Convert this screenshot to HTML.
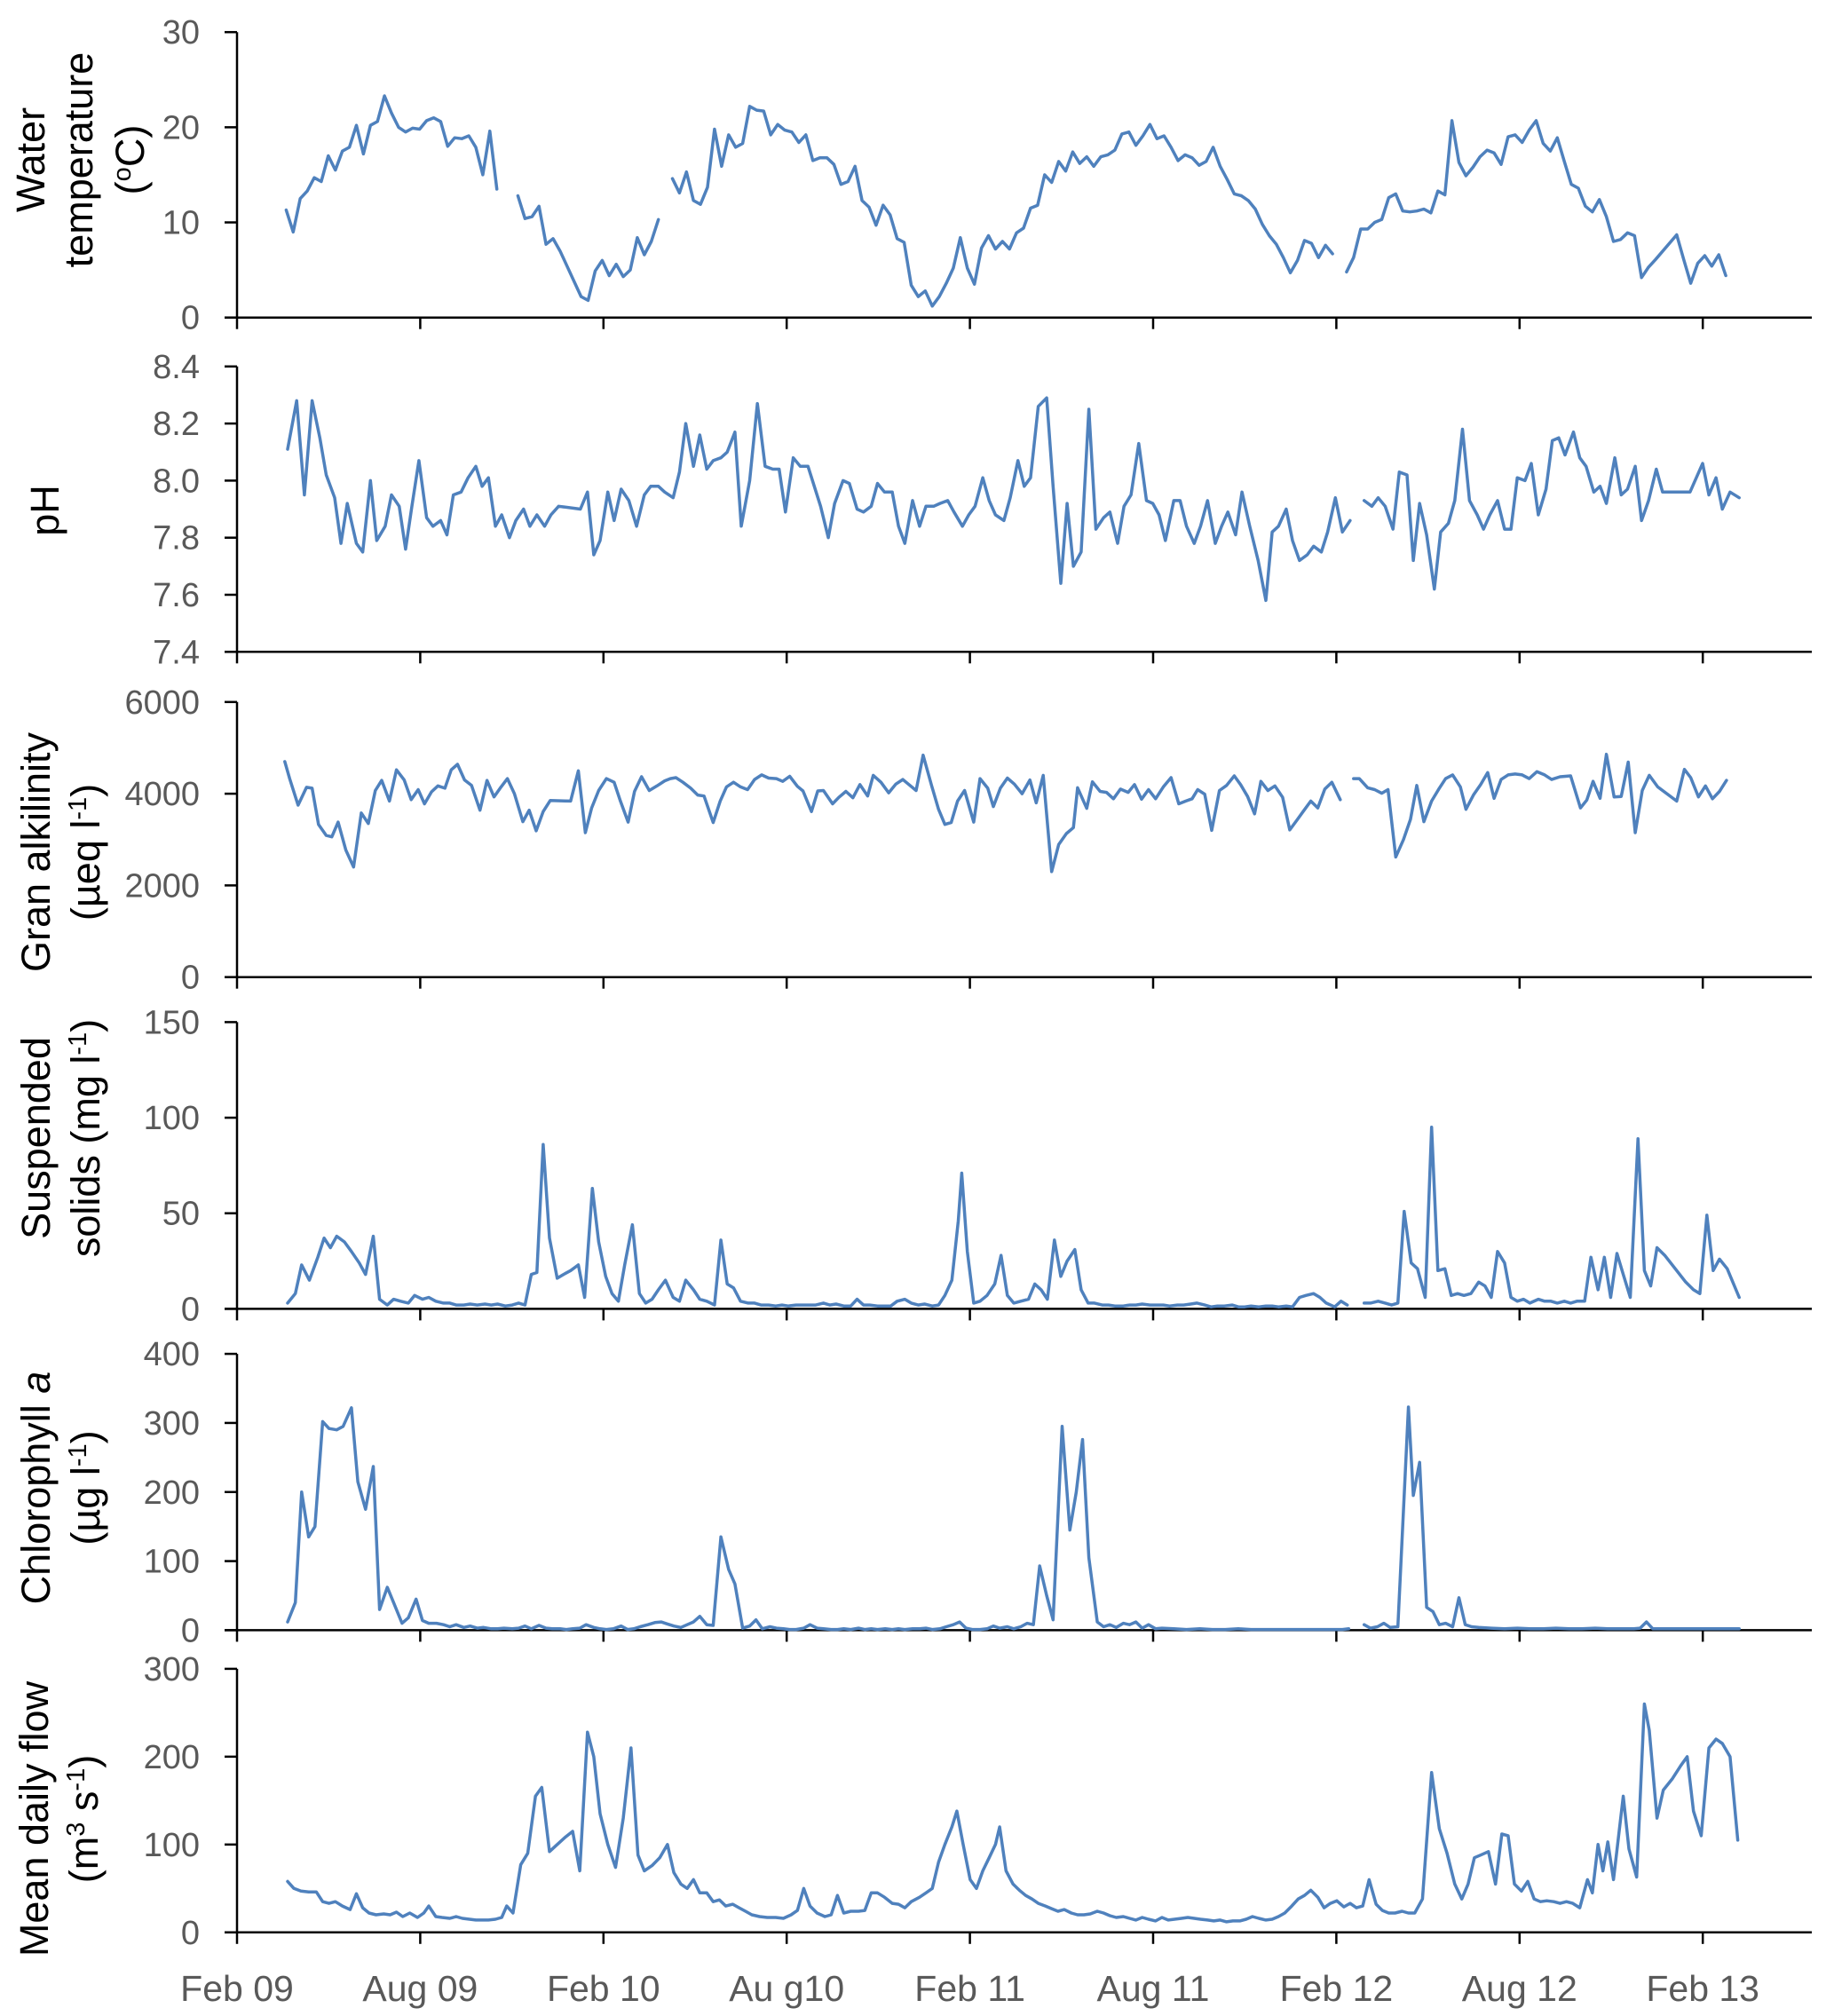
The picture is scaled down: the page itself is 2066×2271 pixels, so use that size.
<!DOCTYPE html>
<html><head><meta charset="utf-8"><title>Water quality time series</title>
<style>
html,body{margin:0;padding:0;background:#fff;}
svg{display:block;font-family:"Liberation Sans",Arial,sans-serif;}
.tick{font-size:38px;fill:#595959;}
.xlab{font-size:41px;fill:#595959;}
.title{font-size:45px;fill:#000;}
</style></head>
<body>
<svg id="chart" width="2066" height="2271" viewBox="0 0 2066 2271" xmlns="http://www.w3.org/2000/svg">
<g id="axes"></g>
<g id="series"></g>
<g id="titles">
  <text class="title" text-anchor="middle" transform="translate(50,180) rotate(-90)">Water</text>
  <text class="title" text-anchor="middle" transform="translate(104,180) rotate(-90)">temperature</text>
  <text class="title" text-anchor="middle" transform="translate(162,180) rotate(-90)">(<tspan font-size="29" dy="-15">o</tspan><tspan dy="15">C)</tspan></text>
  <text class="title" text-anchor="middle" transform="translate(66,575) rotate(-90)">pH</text>
  <text class="title" text-anchor="middle" transform="translate(56,960) rotate(-90)">Gran alkilinity</text>
  <text class="title" text-anchor="middle" transform="translate(112,960) rotate(-90)">(µeq l<tspan font-size="29" dy="-15">-1</tspan><tspan dy="15">)</tspan></text>
  <text class="title" text-anchor="middle" transform="translate(56,1282) rotate(-90)">Suspended</text>
  <text class="title" text-anchor="middle" transform="translate(112,1282) rotate(-90)">solids (mg l<tspan font-size="29" dy="-15">-1</tspan><tspan dy="15">)</tspan></text>
  <text class="title" text-anchor="middle" transform="translate(56,1676) rotate(-90)">Chlorophyll <tspan font-style="italic">a</tspan></text>
  <text class="title" text-anchor="middle" transform="translate(112,1676) rotate(-90)">(µg l<tspan font-size="29" dy="-15">-1</tspan><tspan dy="15">)</tspan></text>
  <text class="title" text-anchor="middle" transform="translate(54,2049) rotate(-90)">Mean daily flow</text>
  <text class="title" text-anchor="middle" transform="translate(110,2049) rotate(-90)">(m<tspan font-size="29" dy="-15">3</tspan><tspan dy="15"> s</tspan><tspan font-size="29" dy="-15">-1</tspan><tspan dy="15">)</tspan></text>
</g>
</svg>
<script>
// x axis: weeks since 1 Feb 2009
const xTickWeeks = [0, 26.09, 52.18, 78.27, 104.36, 130.45, 156.54, 182.63, 208.72];
const xTickLabels = ["Feb 09","Aug 09","Feb 10","Au g10","Feb 11","Aug 11","Feb 12","Aug 12","Feb 13"];

const tempTicks = [0,10,20,30];
const phTicks = [7.4,7.6,7.8,8.0,8.2,8.4];
const alkTicks = [0,2000,4000,6000];
const ssTicks = [0,50,100,150];
const chlTicks = [0,100,200,300,400];
const flowTicks = [0,100,200,300];

// [week, value]; null = break in line
const tempData = [[7,11.3],[8,9],[9,12.5],[10,13.3],[11,14.7],[12,14.3],[13,17],[14,15.5],[15,17.5],[16,17.9],[17,20.2],[18,17.2],[19,20.2],[20,20.6],[21,23.3],[22,21.5],[23,20],[24,19.5],[25,19.9],[26,19.8],[27,20.7],[28,21],[29,20.6],[30,18],[31,18.9],[32,18.8],[33,19.1],[34,17.9],[35,15],[36,19.6],[37,13.5],null,
[40,12.8],[41,10.4],[42,10.6],[43,11.7],[44,7.7],[45,8.3],[46,7],[47,5.4],[48,3.8],[49,2.2],[50,1.8],[51,4.9],[52,6],[53,4.4],[54,5.6],[55,4.3],[56,5],[57,8.4],[58,6.6],[59,8],[60,10.3],null,
[62,14.6],[63,13.1],[64,15.3],[65,12.3],[66,11.9],[67,13.7],[68,19.8],[69,15.9],[70,19.2],[71,17.9],[72,18.3],[73,22.2],[74,21.8],[75,21.7],[76,19.2],[77,20.3],[78,19.7],[79,19.5],[80,18.4],[81,19.2],[82,16.5],[83,16.8],[84,16.8],[85,16.1],[86,14],[87,14.3],[88,15.9],[89,12.3],[90,11.6],[91,9.7],[92,11.8],[93,10.8],[94,8.3],[95,7.9],[96,3.4],[97,2.2],[98,2.8],[99,1.2],[100,2.2],[101,3.6],[102,5.2],[103,8.4],[104,5.2],[105,3.5],[106,7.3],[107,8.6],[108,7.2],[109,8],[110,7.2],[111,8.9],[112,9.4],[113,11.5],[114,11.8],[115,15],[116,14.2],[117,16.4],[118,15.4],[119,17.4],[120,16.2],[121,16.9],[122,15.9],[123,16.9],[124,17.1],[125,17.6],[126,19.3],[127,19.5],[128,18.1],[129,19.1],[130,20.3],[131,18.8],[132,19.1],[133,17.9],[134,16.5],[135,17.1],[136,16.8],[137,16],[138,16.4],[139,17.9],[140,15.9],[141,14.5],[142,13],[143,12.8],[144,12.3],[145,11.4],[146,9.8],[147,8.6],[148,7.7],[149,6.3],[150,4.7],[151,6],[152,8.1],[153,7.8],[154,6.3],[155,7.6],[156,6.7],null,
[158,4.8],[159,6.3],[160,9.3],[161,9.3],[162,10.0],[163,10.3],[164,12.6],[165,13.0],[166,11.2],[167,11.1],[168,11.2],[169,11.4],[170,11.0],[171,13.3],[172,12.9],[173,20.7],[174,16.3],[175,14.9],[176,15.8],[177,16.9],[178,17.6],[179,17.3],[180,16.1],[181,19.0],[182,19.2],[183,18.4],[184,19.7],[185,20.7],[186,18.3],[187,17.5],[188,18.9],[189,16.4],[190,14.0],[191,13.6],[192,11.7],[193,11.1],[194,12.4],[195,10.6],[196,8.0],[197,8.2],[198,8.9],[199,8.6],[200,4.2],[201,5.3],[202,6.1],[205,8.7],[206,6.1],[207,3.6],[208,5.7],[209,6.5],[210,5.4],[211,6.6],[212,4.4]];

const phData = [[7.2,8.11],[8.5,8.28],[9.6,7.95],[10.7,8.28],[11.8,8.15],[12.7,8.02],[13.9,7.94],[14.8,7.78],[15.7,7.92],[17.0,7.78],[17.9,7.75],[19.0,8.0],[19.9,7.79],[21.1,7.84],[22.0,7.95],[23.1,7.91],[24.0,7.76],[24.9,7.91],[25.9,8.07],[27.0,7.87],[27.9,7.84],[29.0,7.86],[29.9,7.81],[30.8,7.95],[31.9,7.96],[32.9,8.01],[34.0,8.05],[34.9,7.98],[35.8,8.01],[36.8,7.84],[37.7,7.88],[38.8,7.8],[39.7,7.86],[40.8,7.9],[41.7,7.84],[42.7,7.88],[43.8,7.84],[44.7,7.88],[45.8,7.91],[48.9,7.9],[49.9,7.96],[50.8,7.74],[51.7,7.79],[52.8,7.96],[53.7,7.86],[54.7,7.97],[55.8,7.93],[56.9,7.84],[58.0,7.95],[58.9,7.98],[60.0,7.98],[60.9,7.96],[62.1,7.94],[63.0,8.03],[63.9,8.2],[65.0,8.05],[65.9,8.16],[66.9,8.04],[67.8,8.07],[68.9,8.08],[69.8,8.1],[70.9,8.17],[71.8,7.84],[73.0,8.0],[74.1,8.27],[75.2,8.05],[76.3,8.04],[77.2,8.04],[78.1,7.89],[79.2,8.08],[80.2,8.05],[81.3,8.05],[82.2,7.98],[83.1,7.91],[84.2,7.8],[85.1,7.92],[86.3,8.0],[87.2,7.99],[88.3,7.9],[89.2,7.89],[90.3,7.91],[91.2,7.99],[92.2,7.96],[93.3,7.96],[94.2,7.84],[95.1,7.78],[96.2,7.93],[97.2,7.84],[98.1,7.91],[99.2,7.91],[100.1,7.92],[101.2,7.93],[102.1,7.89],[103.3,7.84],[104.2,7.88],[105.1,7.91],[106.2,8.01],[107.1,7.93],[108.0,7.88],[109.2,7.86],[110.1,7.94],[111.2,8.07],[112.1,7.98],[113.0,8.01],[114.1,8.26],[115.3,8.29],[116.2,7.98],[117.3,7.64],[118.2,7.92],[119.1,7.7],[120.2,7.75],[121.3,8.25],[122.3,7.83],[123.4,7.87],[124.3,7.89],[125.4,7.78],[126.3,7.91],[127.3,7.95],[128.4,8.13],[129.5,7.93],[130.4,7.92],[131.3,7.88],[132.2,7.79],[133.4,7.93],[134.3,7.93],[135.2,7.84],[136.3,7.78],[137.2,7.84],[138.2,7.93],[139.3,7.78],[140.2,7.84],[141.1,7.89],[142.2,7.81],[143.1,7.96],[144.2,7.84],[145.4,7.72],[146.5,7.58],[147.4,7.82],[148.3,7.84],[149.4,7.9],[150.3,7.79],[151.3,7.72],[152.4,7.74],[153.3,7.77],[154.4,7.75],[155.3,7.82],[156.4,7.94],[157.4,7.82],[158.5,7.86],null,
[160.5,7.93],[161.6,7.91],[162.5,7.94],[163.5,7.91],[164.6,7.83],[165.5,8.03],[166.6,8.02],[167.5,7.72],[168.4,7.92],[169.4,7.81],[170.5,7.62],[171.4,7.82],[172.5,7.85],[173.4,7.93],[174.5,8.18],[175.5,7.93],[176.6,7.88],[177.5,7.83],[178.4,7.88],[179.5,7.93],[180.5,7.83],[181.4,7.83],[182.3,8.01],[183.4,8.0],[184.3,8.06],[185.3,7.88],[186.4,7.97],[187.3,8.14],[188.2,8.15],[189.1,8.09],[190.3,8.17],[191.2,8.08],[192.1,8.05],[193.2,7.96],[194.1,7.98],[195.0,7.92],[196.2,8.08],[197.1,7.95],[198.0,7.97],[199.1,8.05],[200.0,7.86],[201.0,7.93],[202.1,8.04],[203.0,7.96],[203.9,7.96],[206.9,7.96],[208.7,8.06],[209.6,7.95],[210.6,8.01],[211.5,7.9],[212.6,7.96],[213.9,7.94]];

const alkData = [[6.8,4700],[7.5,4330],[8.7,3750],[9.9,4140],[10.7,4120],[11.6,3330],[12.7,3090],[13.5,3060],[14.4,3380],[15.5,2770],[16.6,2400],[17.7,3580],[18.7,3350],[19.7,4070],[20.6,4290],[21.7,3840],[22.7,4520],[23.8,4300],[24.8,3870],[25.8,4090],[26.7,3780],[27.7,4040],[28.6,4170],[29.6,4120],[30.5,4520],[31.4,4640],[32.4,4300],[33.4,4180],[34.6,3640],[35.6,4290],[36.6,3930],[37.6,4150],[38.5,4330],[39.5,4000],[40.7,3390],[41.6,3640],[42.6,3190],[43.6,3610],[44.6,3850],[47.5,3840],[48.6,4500],[49.6,3150],[50.5,3690],[51.5,4070],[52.6,4330],[53.7,4250],[54.6,3840],[55.7,3380],[56.6,4050],[57.6,4370],[58.7,4070],[59.8,4170],[60.9,4280],[61.7,4330],[62.5,4350],[63.5,4250],[64.6,4120],[65.6,3970],[66.5,3950],[67.8,3370],[68.8,3840],[69.7,4150],[70.7,4250],[71.7,4150],[72.7,4090],[73.7,4310],[74.7,4410],[75.7,4340],[76.8,4330],[77.7,4270],[78.7,4380],[79.8,4160],[80.6,4060],[81.8,3610],[82.7,4060],[83.5,4070],[84.8,3780],[85.7,3920],[86.7,4050],[87.7,3910],[88.7,4200],[89.8,3950],[90.6,4400],[91.7,4250],[92.8,4020],[93.8,4210],[94.8,4310],[95.6,4210],[96.7,4070],[97.7,4840],[98.9,4180],[99.9,3660],[100.8,3330],[101.7,3370],[102.6,3840],[103.6,4070],[104.9,3380],[105.8,4330],[106.9,4120],[107.7,3720],[108.7,4120],[109.7,4340],[110.7,4210],[111.8,4000],[112.9,4300],[113.8,3800],[114.8,4400],[116.0,2300],[117.0,2890],[118.1,3130],[119.1,3260],[119.7,4130],[121.0,3680],[121.8,4260],[122.9,4050],[123.8,4030],[124.8,3890],[125.8,4100],[126.9,4030],[127.8,4200],[128.8,3880],[129.8,4090],[130.8,3890],[131.9,4150],[133.0,4350],[134.1,3780],[135.1,3840],[136.0,3890],[136.8,4090],[137.8,3990],[138.8,3200],[139.9,4070],[140.9,4180],[142.0,4390],[142.9,4200],[143.9,3940],[144.9,3560],[145.8,4270],[146.8,4070],[147.8,4170],[148.9,3920],[149.9,3210],[150.9,3420],[151.9,3630],[152.9,3840],[153.9,3690],[154.9,4100],[155.9,4250],[157.1,3870],null,
[159.0,4330],[159.8,4330],[161.0,4130],[162.0,4090],[163.0,4010],[163.9,4090],[165.0,2620],[166.1,3000],[167.1,3440],[168.0,4180],[169.0,3390],[170.1,3840],[171.2,4120],[172.1,4330],[173.1,4410],[174.2,4150],[175.0,3660],[176.1,3980],[177.1,4200],[178.1,4460],[179.0,3900],[180.0,4310],[181.0,4410],[182.0,4430],[183.0,4410],[184.0,4330],[185.1,4480],[186.2,4410],[187.2,4310],[188.4,4370],[189.9,4390],[191.3,3690],[192.2,3860],[193.1,4270],[194.1,3900],[195.0,4860],[196.1,3930],[197.1,3940],[198.1,4690],[199.1,3150],[200.1,4070],[201.1,4400],[202.3,4150],[205.0,3840],[206.1,4530],[207.0,4350],[208.1,3930],[209.1,4170],[210.1,3890],[211.1,4050],[212.1,4290]];

const ssData = [[7.2,3],[8.3,8],[9.2,23],[10.3,15],[11.5,27],[12.4,37],[13.3,32],[14.2,38],[15.3,35],[16.3,30],[17.4,24],[18.3,18],[19.4,38],[20.3,5],[21.4,2],[22.3,5],[23.3,4],[24.4,3],[25.3,7],[26.4,5],[27.3,6],[28.3,4],[29.4,3],[30.3,3],[31.2,2],[32.3,2],[33.2,2.5],[34.2,2],[35.3,2.5],[36.2,2],[37.1,2.5],[38.2,1.5],[39.2,2],[40.1,3],[41.0,2],[41.9,18],[42.7,19],[43.6,86],[44.5,37],[45.6,16],[46.5,18],[47.5,20],[48.6,23],[49.5,6],[50.6,63],[51.5,35],[52.5,17],[53.4,8],[54.3,4],[55.2,23],[56.3,44],[57.3,8],[58.2,3],[59.1,5],[60.0,10],[61.0,15],[62.1,6],[63.0,4],[63.9,15],[65.0,10],[65.9,5],[66.9,4],[68.0,2],[68.9,36],[69.8,13],[70.7,11],[71.7,4],[72.8,3],[73.7,3],[74.6,2],[75.7,2],[76.7,1.5],[77.6,2],[78.5,1.5],[79.6,2],[80.5,2],[81.5,2],[82.4,2],[83.5,3],[84.4,2],[85.3,2.5],[86.4,1.5],[87.4,1.5],[88.3,5],[89.2,2],[90.1,2],[91.2,1.5],[92.2,1.5],[93.1,1.5],[94.0,4],[95.1,5],[96.0,3],[97.0,2],[97.9,2.5],[99.0,1.5],[99.9,2],[100.8,7],[101.8,15],[102.7,46],[103.2,71],[104.0,30],[104.9,3],[105.8,4],[106.8,7],[107.9,13],[108.8,28],[109.7,7],[110.6,3],[111.6,4],[112.7,5],[113.6,13],[114.5,10],[115.4,5],[116.4,36],[117.3,17],[118.2,25],[119.3,31],[120.2,10],[121.2,3],[122.1,3],[123.2,2],[124.1,2],[125.0,1.5],[126.2,1.5],[127.1,2],[128.0,2],[128.9,2.5],[130.0,2],[131.0,2],[131.9,2],[132.8,1.5],[133.9,2],[134.8,2],[135.8,2.5],[136.7,3],[137.8,2],[138.7,1],[139.6,1.5],[140.6,1.5],[141.7,2],[142.6,1],[143.5,1],[144.4,1.5],[145.5,1],[146.5,1.5],[147.4,1.5],[148.3,1],[149.4,1.5],[150.3,1],[151.3,6],[152.2,7],[153.3,8],[154.2,6],[155.1,3],[156.3,1],[157.2,4],[158.1,2],null,
[160.5,3],[161.4,3],[162.5,4],[163.5,3],[164.4,2],[165.3,3],[166.2,51],[167.2,24],[168.1,21],[169.2,6],[170.1,95],[171.0,20],[172.0,21],[172.9,7],[173.8,8],[174.7,7],[175.7,8],[176.8,14],[177.7,12],[178.6,6],[179.5,30],[180.5,24],[181.4,6],[182.3,4],[183.2,5],[184.1,3],[185.3,5],[186.2,4],[187.1,4],[188.0,3],[189.0,4],[189.9,3],[190.8,4],[191.9,4],[192.8,27],[193.8,10],[194.7,27],[195.6,6],[196.5,29],[197.4,18],[198.4,6],[199.5,89],[200.4,20],[201.3,12],[202.2,32],[203.3,28],[206.3,14],[207.4,10],[208.3,8],[209.3,49],[210.2,20],[211.1,26],[212.2,21],[213.9,6]];

const chlData = [[7.2,12],[8.3,40],[9.2,200],[10.2,135],[11.1,150],[12.2,302],[13.1,292],[14.2,290],[15.1,295],[16.3,322],[17.2,215],[18.3,175],[19.4,237],[20.3,30],[21.4,62],[22.3,40],[23.5,10],[24.4,18],[25.5,45],[26.4,14],[27.3,10],[28.4,10],[29.4,8],[30.3,5],[31.2,8],[32.3,4],[33.2,6],[34.2,3],[35.1,4],[36.2,2],[37.1,2],[38.0,3],[39.2,2],[40.1,3],[41.0,6],[41.9,2],[43.0,7],[44.0,3],[44.9,2],[46.0,2],[46.9,1],[47.8,2],[48.8,3],[49.7,8],[50.8,4],[51.7,2],[52.6,1],[53.6,2],[54.7,6],[55.6,1],[56.5,2],[57.4,5],[58.5,8],[59.5,11],[60.4,12],[61.3,9],[62.2,6],[63.2,4],[64.1,8],[65.0,12],[65.9,20],[66.9,8],[67.8,7],[68.9,135],[70.0,88],[70.9,67],[72.0,3],[73.0,6],[73.9,15],[74.8,2],[75.9,5],[76.8,3],[77.8,2],[78.7,1],[79.6,1],[80.7,3],[81.6,8],[82.6,3],[83.5,2],[84.6,1],[85.5,1],[86.4,2],[87.4,1],[88.5,3],[89.4,1],[90.3,2],[91.2,1],[92.3,2],[93.3,1],[94.2,2],[95.1,1],[96.2,2],[97.2,2],[98.1,3],[99.0,1],[100.1,2],[101.0,5],[102.0,8],[102.9,12],[103.8,3],[104.7,1],[105.8,1],[106.8,2],[107.7,6],[108.6,3],[109.7,5],[110.6,2],[111.6,5],[112.5,10],[113.4,8],[114.3,93],[115.3,50],[116.2,15],[117.5,295],[118.6,145],[119.5,200],[120.4,276],[121.3,105],[122.5,12],[123.4,5],[124.3,8],[125.2,4],[126.2,10],[127.1,8],[128.0,12],[128.9,3],[129.8,8],[130.8,2],[131.7,3],[133.4,2],[135.2,1],[137.1,2],[138.9,1],[140.7,1],[142.6,2],[144.4,1],[146.3,1],[148.1,1],[150.0,1],[151.8,1],[153.7,1],[155.5,1],[157.4,1],[158.3,2],null,
[160.5,8],[161.4,3],[162.4,5],[163.3,10],[164.2,4],[165.3,5],[166.8,323],[167.5,195],[168.4,243],[169.4,33],[170.3,27],[171.2,8],[172.1,10],[173.1,5],[174.0,47],[174.9,8],[175.8,5],[176.8,4],[178.6,3],[180.5,2],[182.3,3],[184.1,2],[186.0,2],[187.8,3],[189.7,2],[191.5,2],[193.4,3],[195.2,2],[197.1,2],[198.9,2],[199.8,3],[200.7,12],[201.6,2],[203.5,2],[206.3,2],[210.0,2],[213.9,2]];

const flowData = [[7.2,58],[8.1,50],[9.1,47],[10.2,46],[11.3,46],[12.2,35],[13.1,33],[14.0,35],[15.0,30],[16.1,26],[17.0,44],[17.9,28],[18.8,22],[19.8,20],[20.9,21],[21.8,20],[22.7,23],[23.6,18],[24.6,22],[25.7,17],[26.6,22],[27.3,30],[28.3,18],[29.2,17],[30.3,16],[31.2,18],[32.1,16],[33.1,15],[34.0,14],[34.9,14],[35.8,14],[36.8,15],[37.7,17],[38.4,30],[39.3,22],[40.4,77],[41.4,90],[42.5,155],[43.4,165],[44.5,92],[45.6,100],[46.7,108],[47.8,115],[48.8,70],[49.9,228],[50.8,200],[51.7,135],[52.8,100],[53.9,74],[55.0,130],[56.1,210],[57.1,88],[58.0,70],[59.1,76],[60.2,85],[61.3,100],[62.2,68],[63.2,55],[64.1,50],[65.0,60],[65.9,45],[66.9,45],[67.8,35],[68.7,37],[69.6,30],[70.6,32],[71.5,28],[72.4,24],[73.3,20],[74.4,18],[75.5,17],[76.7,17],[77.8,16],[78.9,20],[79.8,25],[80.7,50],[81.6,30],[82.6,22],[83.7,18],[84.6,20],[85.5,42],[86.4,22],[87.4,24],[88.5,24],[89.4,25],[90.3,45],[91.2,45],[92.2,40],[93.3,33],[94.2,32],[95.1,28],[96.0,35],[97.2,40],[98.1,45],[99.0,50],[99.9,80],[100.8,100],[101.8,120],[102.5,138],[103.4,100],[104.4,60],[105.3,50],[106.2,70],[107.1,85],[108.0,100],[108.6,120],[109.5,70],[110.5,55],[111.4,48],[112.3,42],[113.2,38],[114.1,33],[115.1,30],[116.0,27],[116.9,24],[117.8,26],[118.8,22],[119.7,20],[120.6,20],[121.5,21],[122.5,24],[123.4,22],[124.3,19],[125.2,17],[126.2,18],[127.1,16],[128.0,14],[128.9,17],[129.8,15],[130.8,13],[131.7,17],[132.6,14],[133.5,15],[134.5,16],[135.4,17],[136.3,16],[137.2,15],[138.2,14],[139.1,13],[140.0,14],[140.9,12],[141.8,13],[142.8,13],[143.7,15],[144.6,18],[145.5,16],[146.5,14],[147.4,15],[148.3,18],[149.2,22],[150.2,30],[151.1,38],[152.0,42],[152.9,48],[153.9,40],[154.8,28],[155.7,33],[156.6,36],[157.6,29],[158.5,33],[159.4,28],[160.3,30],[161.2,60],[162.2,32],[163.1,25],[164.0,22],[164.9,22],[165.9,24],[166.8,22],[167.7,22],[168.8,38],[170.1,182],[171.2,118],[172.3,90],[173.4,55],[174.4,38],[175.3,55],[176.2,85],[177.1,88],[178.2,92],[179.2,55],[180.1,112],[181.0,110],[181.9,55],[182.9,47],[183.8,58],[184.7,38],[185.6,35],[186.5,36],[187.5,35],[188.4,33],[189.3,35],[190.2,33],[191.2,28],[192.3,60],[193.0,45],[193.8,100],[194.5,70],[195.2,103],[196.0,60],[197.4,155],[198.2,95],[199.3,63],[200.4,260],[201.1,230],[202.2,130],[203.1,162],[204.4,175],[205.6,190],[206.5,200],[207.4,138],[208.5,110],[209.6,210],[210.6,220],[211.5,215],[212.6,200],[213.7,105]];

const NS = "http://www.w3.org/2000/svg";
const AX_X = 267, AX_RIGHT = 2041, PX_PER_WEEK = 7.911;
function xScale(w){ return AX_X + w * PX_PER_WEEK; }
function mk(tag, attrs, parent){ const e=document.createElementNS(NS,tag); for(const k in attrs) e.setAttribute(k,attrs[k]); parent.appendChild(e); return e; }

const panels = [
  {key:"temperature", top:36.2, bottom:357.7, min:0, max:30, ticks:tempTicks, dec:0, data:tempData},
  {key:"ph", top:412.8, bottom:734.3, min:7.4, max:8.4, ticks:phTicks, dec:1, data:phData},
  {key:"alkalinity", top:790.8, bottom:1100.7, min:0, max:6000, ticks:alkTicks, dec:0, data:alkData},
  {key:"suspended-solids", top:1151.4, bottom:1474.4, min:0, max:150, ticks:ssTicks, dec:0, data:ssData},
  {key:"chlorophyll", top:1525.1, bottom:1836.4, min:0, max:400, ticks:chlTicks, dec:0, data:chlData},
  {key:"flow", top:1879.9, bottom:2176.8, min:0, max:300, ticks:flowTicks, dec:0, data:flowData}
];

const axesG = document.getElementById("axes");
const seriesG = document.getElementById("series");

panels.forEach((p) => {
  const y = v => p.bottom - (v - p.min) / (p.max - p.min) * (p.bottom - p.top);
  const g = mk("g", {}, axesG);
  
  
  const yl = mk("line", {x1:AX_X, y1:p.top, x2:AX_X, y2:p.bottom, stroke:"#000", "stroke-width":2.5}, g);
  
  
  const xl = mk("line", {x1:AX_X-14, y1:p.bottom, x2:AX_RIGHT, y2:p.bottom, stroke:"#000", "stroke-width":2.5}, g);
  
  
  p.ticks.forEach(t => {
    const ty = y(t);
    const tl = mk("line", {x1:AX_X-14, y1:ty, x2:AX_X, y2:ty, stroke:"#000", "stroke-width":2.5}, g);
    
    
    const tt = mk("text", {x:AX_X-42, y:ty+13, "text-anchor":"end", class:"tick"}, g);
    tt.textContent = t.toFixed(p.dec);
    
    
  });
  xTickWeeks.forEach(w => {
    const tx = xScale(w);
    const xt = mk("line", {x1:tx, y1:p.bottom, x2:tx, y2:p.bottom+13, stroke:"#000", "stroke-width":2.5}, g);
    
    
  });
  let d = "", pen = false;
  p.data.forEach(pt => {
    if (pt === null || pt[1] === null) { pen = false; return; }
    d += (pen ? "L" : "M") + xScale(pt[0]).toFixed(1) + "," + y(pt[1]).toFixed(1);
    pen = true;
  });
  const path = mk("path", {d:d, fill:"none", stroke:"#4f81bd", "stroke-width":3.5, "stroke-linejoin":"round", "stroke-linecap":"round"}, seriesG);
  
  
});

xTickWeeks.forEach((w, i) => {
  const t = mk("text", {x:xScale(w), y:2254, "text-anchor":"middle", class:"xlab"}, axesG);
  t.textContent = xTickLabels[i];
  
  
});
</script>
</body></html>
